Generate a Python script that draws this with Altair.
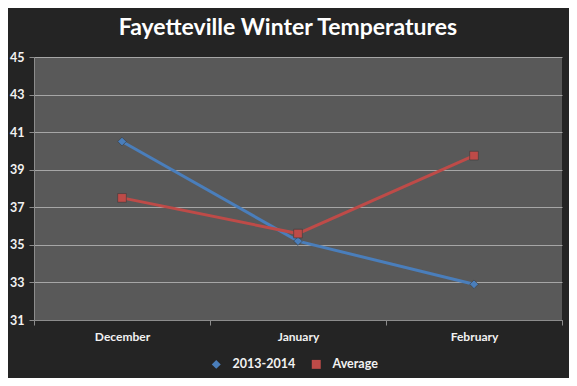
import altair as alt
import pandas as pd

months = ["December", "January", "February"]
series_names = ["2013-2014", "Average"]
temps_2013 = [40.5, 35.2, 32.9]
temps_avg = [37.5, 35.6, 39.75]
y_ticks = [31, 33, 35, 37, 39, 41, 43, 45]

rows = []
for m, v in zip(months, temps_2013):
    rows.append({"Month": m, "Series": series_names[0], "Temp": v})
for m, v in zip(months, temps_avg):
    rows.append({"Month": m, "Series": series_names[1], "Temp": v})
df = pd.DataFrame(rows)

colors = ["#4A7EBB", "#BE4B48"]
font = "Lato"

x = alt.X("Month:N", sort=months, title=None,
          scale=alt.Scale(paddingInner=0, paddingOuter=0),
          axis=alt.Axis(labelAngle=0, labelColor="#F2F2F2", labelFont=font,
                        labelFontSize=12, labelFontWeight="bold",
                        tickBand="extent", tickColor="#8C8C8C", tickSize=5,
                        domainColor="#8C8C8C", labelPadding=6, grid=False))
y = alt.Y("Temp:Q", title=None,
          scale=alt.Scale(domain=[31, 45], nice=False, zero=False),
          axis=alt.Axis(values=y_ticks, labelColor="#F2F2F2", labelFont=font,
                        labelFontSize=12.5, labelFontWeight="bold",
                        tickColor="#8C8C8C", tickSize=5, domainColor="#8C8C8C",
                        gridColor="#A6A6A6", gridWidth=1, labelPadding=5))
color = alt.Color("Series:N", sort=series_names,
                  scale=alt.Scale(domain=series_names, range=colors),
                  legend=alt.Legend(title=None, orient="none", direction="horizontal",
                                    legendX=176, legendY=301,
                                    labelColor="#F2F2F2", labelFont=font,
                                    labelFontSize=12.5, labelFontWeight="bold",
                                    symbolSize=80, symbolStrokeWidth=0,
                                    labelOffset=10, columnPadding=14))

base = alt.Chart(df)
lines = base.mark_line(strokeWidth=3).encode(x=x, y=y, color=color)
points = base.mark_point(filled=True, size=75, opacity=1, stroke="#3a3a3a",
                         strokeWidth=0.6).encode(
    x=x, y=y, color=color, shape=alt.Shape("Series:N", sort=series_names,
                  scale=alt.Scale(domain=series_names, range=["diamond", "square"])))

chart = alt.layer(lines, points).properties(
    width=528, height=263,
    background="#242424",
    padding={"left": 26, "top": 49, "right": 7, "bottom": 58},
    autosize=alt.AutoSizeParams(type="none"),
    title=alt.Title("Fayetteville Winter Temperatures", color="#FFFFFF",
                    font=font, fontSize=23, fontWeight="bold", offset=11,
                    anchor="middle", dx=-10),
).configure_view(fill="#595959", stroke=None).configure_axis(gridOpacity=1)

chart.save("out.html", embed_options={"renderer": "svg", "actions": False})
